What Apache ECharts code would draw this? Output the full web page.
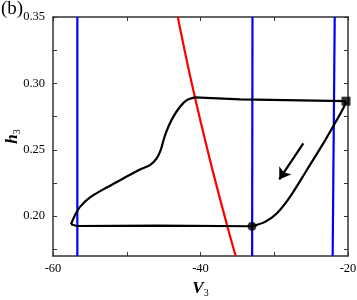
<!DOCTYPE html>
<html><head><meta charset="utf-8">
<script src="https://cdn.jsdelivr.net/npm/echarts@6/dist/echarts.min.js"></script>
<style>html,body{margin:0;padding:0;background:#fff}#c{width:357px;height:300px}</style>
</head><body><div id="c"></div>
<script>
// x-axis tick labels, y-axis tick labels
var xLabels = [-60, -40, -20];
var xTicks = [-60, -50, -40, -30, -20];
var yLabels = [0.20, 0.25, 0.30, 0.35];
var yTicks = [0.175, 0.20, 0.225, 0.25, 0.275, 0.30, 0.325, 0.35];

// blue vertical nullclines (V3, h3)
var blue1 = [[-56.7, 0.35], [-56.7, 0.17]];
var blue2 = [[-32.95, 0.35], [-33.0, 0.17]];
var blue3 = [[-21.8, 0.35], [-22.08, 0.17]];
// red nullcline
var redV = [-43.08, -41.29, -38.71, -36.37, -35.23];
var redH = [0.35, 0.3025, 0.2422, 0.1926, 0.17];

// black trajectory pieces
var topV = [-20.27, -34.6, -40.0, -40.75];
var topH = [0.2866, 0.2879, 0.2893, 0.2895];
var leftV = [-40.75, -41.87, -42.78, -43.69, -44.36, -44.95, -45.40, -45.94, -46.85, -48.2, -50.47, -52.72, -54.98, -56.34, -57.02, -57.56];
var leftH = [0.2895, 0.2874, 0.2824, 0.2748, 0.2673, 0.2585, 0.2497, 0.2435, 0.2384, 0.2352, 0.2284, 0.2216, 0.2141, 0.2070, 0.2007, 0.1939];
var bottomV = [-57.56, -56.79, -45.8, -45.7, -33.02];
var bottomH = [0.1939, 0.1926, 0.1929, 0.1922, 0.1924];
var rightV = [-33.02, -31.25, -29.67, -27.86, -25.60, -23.35, -21.53, -20.64, -20.27];
var rightH = [0.1924, 0.1957, 0.2020, 0.2145, 0.2346, 0.2548, 0.2723, 0.2812, 0.2861];
// markers
var squarePt = [-20.27, 0.2866];
var dotPt = [-33.02, 0.1924];
// arrow (start, tip)
var arrowStart = [-26.06, 0.2548];
var arrowTip = [-29.32, 0.2277];

function zip(a, b) { return a.map(function (v, i) { return [v, b[i]]; }); }

var chart = echarts.init(document.getElementById('c'), null, {renderer: 'canvas'});
var font = 'Liberation Serif';
var axisLineStyle = {color: '#333', width: 1.5};
function blackSeries(d, smooth) {
  return {type: 'line', data: d, symbol: 'none', smooth: smooth, z: 5,
    lineStyle: {color: '#000', width: 2.2}};
}
function vline(d, color) {
  return {type: 'line', data: d, symbol: 'none', z: 3, lineStyle: {color: color, width: 2.2}};
}
chart.setOption({
  animation: false,
  grid: {left: 53, top: 17, right: 9, bottom: 44, containLabel: false, outerBoundsMode: 'none'},
  xAxis: [{
    type: 'value', min: -60, max: -20, interval: 10, position: 'bottom',
    axisLine: {lineStyle: axisLineStyle},
    axisTick: {inside: true, length: 4, lineStyle: {color: '#333', width: 1}, customValues: xTicks},
    axisLabel: {customValues: xLabels, color: '#000', fontFamily: font, fontSize: 12.5, margin: 6},
    splitLine: {show: false},
    name: '{i|V}{s|3}', nameLocation: 'middle', nameGap: 24, nameMoveOverlap: false,
    nameTextStyle: {rich: {
      i: {fontFamily: font, fontStyle: 'italic', fontWeight: 'bold', fontSize: 17, color: '#000'},
      s: {fontFamily: font, fontSize: 10, color: '#000', verticalAlign: 'bottom', padding: [8, 0, 0, 0]}
    }}
  }, {
    type: 'value', min: -60, max: -20, interval: 10, position: 'top',
    axisLine: {lineStyle: axisLineStyle},
    axisTick: {inside: true, length: 4, lineStyle: {color: '#333', width: 1}, customValues: xTicks},
    axisLabel: {show: false}, splitLine: {show: false}
  }],
  yAxis: [{
    type: 'value', min: 0.17, max: 0.35, position: 'left',
    axisLine: {lineStyle: axisLineStyle},
    axisTick: {inside: true, length: 4, lineStyle: {color: '#333', width: 1}, customValues: yTicks},
    axisLabel: {customValues: yLabels, color: '#000', fontFamily: font, fontSize: 12.5, margin: 8,
      formatter: function (v) { return v.toFixed(2); }},
    splitLine: {show: false},
    name: '{i|h}{s|3}', nameLocation: 'middle', nameGap: 31, nameRotate: 90, nameMoveOverlap: false,
    nameTextStyle: {rich: {
      i: {fontFamily: font, fontStyle: 'italic', fontWeight: 'bold', fontSize: 17, color: '#000'},
      s: {fontFamily: font, fontSize: 10, color: '#000', verticalAlign: 'bottom', padding: [8, 0, 0, 0]}
    }}
  }, {
    type: 'value', min: 0.17, max: 0.35, position: 'right',
    axisLine: {lineStyle: axisLineStyle},
    axisTick: {inside: true, length: 4, lineStyle: {color: '#333', width: 1}, customValues: yTicks},
    axisLabel: {show: false}, splitLine: {show: false}
  }],
  graphic: [{
    type: 'text', left: 1, top: 0,
    style: {text: '(b)', font: '19px "Liberation Serif"', fill: '#000'}
  }],
  series: [
    vline(blue1, '#0000ff'),
    vline(blue2, '#0000ff'),
    vline(blue3, '#0000ff'),
    {type: 'line', data: zip(redV, redH), symbol: 'none', smooth: 0.3, z: 4,
      lineStyle: {color: '#ff0000', width: 2.2}},
    blackSeries(zip(topV, topH), false),
    blackSeries(zip(leftV, leftH), 0.3),
    blackSeries(zip(bottomV, bottomH), false),
    blackSeries(zip(rightV, rightH), 0.3),
    {type: 'scatter', data: [squarePt], symbol: 'rect', symbolSize: 9, z: 6,
      itemStyle: {color: '#000'}},
    {type: 'scatter', data: [dotPt], symbol: 'circle', symbolSize: 9, z: 6,
      itemStyle: {color: '#000'}},
    {type: 'lines', coordinateSystem: 'cartesian2d', z: 6,
      symbol: ['none', 'arrow'], symbolSize: 11,
      lineStyle: {color: '#000', width: 2.2, opacity: 1},
      data: [{coords: [arrowStart, arrowTip]}]}
  ]
});
</script></body></html>
